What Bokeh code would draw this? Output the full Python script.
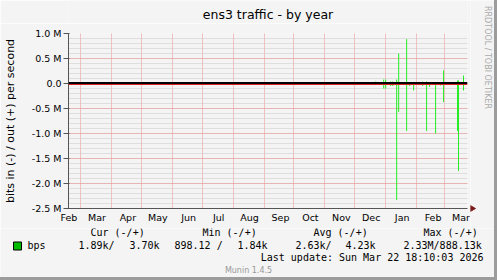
import math
import numpy as np
from bokeh.plotting import figure
from bokeh.models import (Range1d, FixedTicker, SingleIntervalTicker, Span,
                          ColumnDataSource, Spacer)
from bokeh.layouts import column, row
from bokeh.core.properties import value
from bokeh.embed import file_html
from bokeh.resources import INLINE

# ---------------- data ----------------
title = "ens3 traffic - by year"
y_label = "bits in (-) / out (+) per second"
origin = "2025-02-16T00:00"
range_start_day = 1
range_days = 400

month_starts = ["2025-02-01", "2025-03-01", "2025-04-01", "2025-05-01", "2025-06-01",
                "2025-07-01", "2025-08-01", "2025-09-01", "2025-10-01", "2025-11-01",
                "2025-12-01", "2026-01-01", "2026-02-01", "2026-03-01"]
month_labels = ["Feb", "Mar", "Apr", "May", "Jun", "Jul", "Aug", "Sep", "Oct", "Nov",
                "Dec", "Jan", "Feb", "Mar"]

out_dates = ["2025-12-22", "2025-12-30", "2026-01-01", "2026-01-06", "2026-01-08",
             "2026-01-12", "2026-01-14", "2026-01-22", "2026-02-07", "2026-02-11",
             "2026-02-28", "2026-03-14", "2026-03-15", "2026-03-20"]
out_bps = [40000, 80000, 80000, 40000, 40000,
           80000, 600000, 888130, 40000, 40000,
           260000, 60000, 60000, 160000]

in_dates = ["2025-12-22", "2025-12-30", "2026-01-01", "2026-01-06", "2026-01-08",
            "2026-01-12", "2026-01-14", "2026-01-22", "2026-01-25", "2026-01-29",
            "2026-02-07", "2026-02-11", "2026-02-14", "2026-02-20", "2026-02-25",
            "2026-02-28", "2026-03-14", "2026-03-15", "2026-03-20"]
in_bps = [30000, 100000, 100000, 50000, 50000,
          2330000, 570000, 950000, 50000, 140000,
          50000, 950000, 70000, 1000000, 40000,
          370000, 950000, 1750000, 140000]

y_ticks = [-2500000, -2000000, -1500000, -1000000, -500000, 0, 500000, 1000000]
y_tick_labels = ["-2.5 M", "-2.0 M", "-1.5 M", "-1.0 M", "-0.5 M", "0.0", "0.5 M", "1.0 M"]

legend_name = "bps"
legend_headers = ["Cur (-/+)", "Min (-/+)", "Avg (-/+)", "Max (-/+)"]
legend_values = ["1.89k/", "3.70k", "898.12 /", "1.84k", "2.63k/", "4.23k", "2.33M/888.13k"]
last_update = "Last update: Sun Mar 22 18:10:03 2026"
footer = "Munin 1.4.5"
watermark = "RRDTOOL / TOBI OETIKER"

# ---------------- helpers ----------------
o = np.datetime64(origin)
def days(dates):
    return [float((np.datetime64(d) - o) / np.timedelta64(1, "D")) for d in dates]

BG = "#f4f4f4"
GREEN = "#22ee22"
ARROW = "#7a1a1a"
AXIS = "#555555"
SANS = "DejaVu Sans"
MONO = "DejaVu Sans Mono"
SHADE = "#9c9c9c"

W = 494          # inner width (without right shade)
TOP_H = 228      # header + main chart height
HEAD_H = 23      # title strip height
FL, FT, FW, FH = 67, 33, 400, 175
MAIN_W = 470     # main figure width; watermark strip to its right

def bare(width, height, x0, x1, y0, y1):
    f = figure(width=width, height=height, x_range=Range1d(x0, x1),
               y_range=Range1d(y0, y1), min_border=0, title=None,
               x_axis_location=None, y_axis_location=None,
               output_backend="svg", toolbar_location=None,
               background_fill_color=BG, border_fill_color=BG)
    f.outline_line_color = None
    f.grid.visible = False
    return f

# ---------------- title strip (its frame is aligned with the chart frame) ----------------
hd = bare(MAIN_W, HEAD_H, FL, FL + FW, HEAD_H, 0)
hd.text(x=[FL + FW / 2], y=[14], text=[title], text_align="center", text_baseline="middle",
        text_font=value(SANS), text_font_size=value("12.5px"), text_color="#000000")

# ---------------- main chart ----------------
p = figure(width=MAIN_W, height=TOP_H - HEAD_H, title=None,
           min_border_left=FL, min_border_right=MAIN_W - FL - FW,
           min_border_top=FT - HEAD_H, min_border_bottom=TOP_H - FT - FH,
           x_range=Range1d(range_start_day, range_start_day + range_days),
           y_range=Range1d(y_ticks[0], y_ticks[-1]),
           output_backend="svg", toolbar_location=None,
           background_fill_color=BG, border_fill_color=BG)
p.outline_line_color = None

ms = days(month_starts)
lab_pos = [d + 16.5 for d in ms]
p.xaxis.ticker = FixedTicker(ticks=lab_pos)
p.xaxis.major_label_overrides = {pos: lab for pos, lab in zip(lab_pos, month_labels)}
p.xaxis.major_tick_line_color = None
p.xaxis.major_tick_out = 0
p.xaxis.major_tick_in = 0
p.xaxis.minor_tick_line_color = None
p.xaxis.major_label_standoff = 3
p.xaxis.major_label_text_font = SANS
p.xaxis.major_label_text_font_size = "9.5px"
p.xaxis.major_label_text_color = "#000000"
p.xaxis.axis_line_color = AXIS
p.xgrid.ticker = FixedTicker(ticks=ms)
p.xgrid.grid_line_color = "#f08c8c"
p.xgrid.grid_line_dash = "1 1"

p.yaxis.ticker = SingleIntervalTicker(interval=500000, num_minor_ticks=5)
p.yaxis.major_label_overrides = {t: l for t, l in zip(y_ticks, y_tick_labels)}
p.yaxis.major_tick_out = 5
p.yaxis.major_tick_in = 1
p.yaxis.major_tick_line_color = AXIS
p.yaxis.minor_tick_line_color = None
p.yaxis.major_label_standoff = 2
p.yaxis.major_label_text_font = SANS
p.yaxis.major_label_text_font_size = "9.5px"
p.yaxis.major_label_text_color = "#000000"
p.yaxis.axis_line_color = AXIS
p.yaxis.axis_label = y_label
p.yaxis.axis_label_text_font = SANS
p.yaxis.axis_label_text_font_size = "11px"
p.yaxis.axis_label_text_font_style = "normal"
p.yaxis.axis_label_text_color = "#000000"
p.yaxis.axis_label_standoff = 12
p.ygrid.grid_line_color = "#f08c8c"
p.ygrid.grid_line_dash = "1 1"
p.ygrid.minor_grid_line_color = "#c8c8c8"
p.ygrid.minor_grid_line_dash = "1 1"

# spikes: out (+) upward, in (-) downward, drawn from the zero line
src_out = ColumnDataSource(dict(x=days(out_dates), top=out_bps))
src_in = ColumnDataSource(dict(x=days(in_dates), bottom=[-v for v in in_bps]))
p.segment(x0="x", y0=0, x1="x", y1="top", source=src_out,
          line_color=GREEN, line_width=1)
p.segment(x0="x", y0=0, x1="x", y1="bottom", source=src_in,
          line_color=GREEN, line_width=1)

# zero rule: black (2 px), with a thin red line just beneath it (pixel-aligned)
px_per_unit = (y_ticks[-1] - y_ticks[0]) / FH
p.add_layout(Span(location=-1.0 * px_per_unit, dimension="width",
                  line_color="#dd2020", line_width=1))
p.add_layout(Span(location=0.5 * px_per_unit, dimension="width",
                  line_color="#000000", line_width=2))

# ---------------- watermark strip (with the x-axis arrow head) ----------------
wm = bare(W - MAIN_W, TOP_H, MAIN_W, W, 0, TOP_H)
wm.text(x=[487], y=[TOP_H - 57], text=[watermark], angle=-math.pi / 2,
        text_font=value(SANS), text_font_size=value("8px"), text_color="#aaaaaa",
        text_align="center", text_baseline="middle")
wm.segment(x0=[MAIN_W], y0=[TOP_H - FT - FH], x1=[MAIN_W + 2], y1=[TOP_H - FT - FH],
           line_color=AXIS, line_width=1)
wm.scatter(x=[MAIN_W + 1.5], y=[TOP_H - FT - FH], marker="triangle", size=6,
           angle=-math.pi / 2, fill_color=ARROW, line_color=ARROW)

# ---------------- legend area ----------------
LEG_H = 277 - TOP_H
lg = bare(W, LEG_H, 0, W, 277, TOP_H)
mono = dict(text_font=value(MONO), text_font_size=value("10px"), text_color="#000000",
            text_baseline="middle")
lg.text(x=[90, 202, 313, 423], y=[232] * 4, text=legend_headers, text_align="left", **mono)
lg.text(x=[27], y=[245], text=[legend_name], text_align="left", **mono)
lg.text(x=[78, 129, 174, 237, 295, 345, 403], y=[245] * 7, text=legend_values,
        text_align="left", **mono)
lg.text(x=[483], y=[257], text=[last_update], text_align="right", **mono)
lg.text(x=[248], y=[270], text=[footer], text_align="center", text_baseline="middle",
        text_font=value(SANS), text_font_size=value("8px"), text_color="#999999")
lg.quad(left=[13], right=[21], top=[241.5], bottom=[249.5],
        fill_color="#00bb00", line_color="#000000", line_width=1)

bottom_shade = Spacer(width=W, height=3, styles={"background-color": SHADE})
right_shade = Spacer(width=3, height=280, styles={"background-color": SHADE})

layout = row(column(row(column(hd, p), wm), lg, bottom_shade), right_shade)
open("out.html", "w").write(file_html(layout, INLINE))
